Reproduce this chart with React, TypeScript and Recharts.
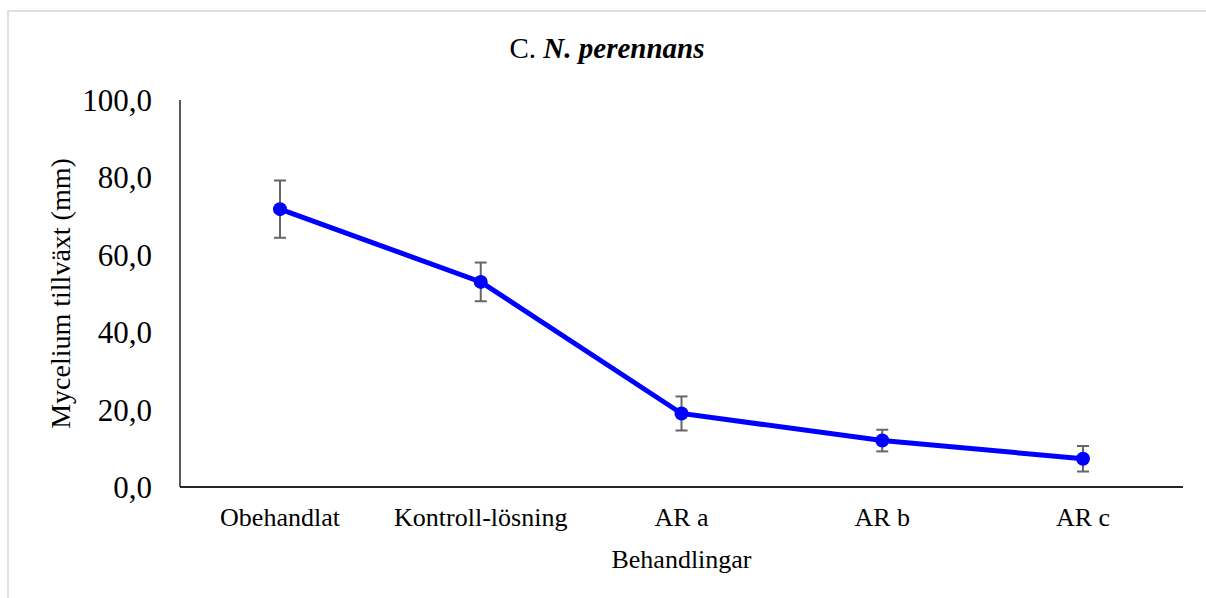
import { ErrorBar, Line, LineChart, XAxis, YAxis } from "recharts";

// Mycelium growth per treatment, with error bars
const categories = ["Obehandlat", "Kontroll-lösning", "AR a", "AR b", "AR c"];
const growth = [71.8, 53.0, 19.0, 12.0, 7.3];
const growthErr = [7.4, 5.0, 4.4, 2.8, 3.3];
const yTicks = [0, 20, 40, 60, 80, 100];

const FONT = "'Liberation Serif', 'Times New Roman', serif";
const BLUE = "#0000FF";

const data = categories.map((name, i) => ({ name, value: growth[i], err: growthErr[i] }));

const fmt = (v: number) => v.toFixed(1).replace(".", ",");

export default function App() {
  return (
    <div
      style={{
        position: "absolute",
        left: 0,
        top: 0,
        width: 1206,
        height: 598,
        overflow: "hidden",
        background: "#fff",
        fontFamily: FONT,
      }}
    >
      {/* chart area frame, only top/left edges are visible in the crop */}
      <div
        style={{
          position: "absolute",
          left: 7,
          top: 10,
          width: 1300,
          height: 700,
          border: "2px solid #e0e0e0",
          boxSizing: "border-box",
        }}
      />
      <LineChart
        width={1206}
        height={598}
        data={data}
        margin={{ top: 100, right: 23, bottom: 0, left: 0 }}
        style={{ position: "absolute", left: 0, top: 0 }}
      >
        <XAxis
          dataKey="name"
          padding={{ left: 100, right: 100 }}
          height={111}
          tickLine={false}
          tickSize={0}
          tickMargin={21}
          axisLine={{ stroke: "#262626", strokeWidth: 2 }}
          tick={{ fill: "#000", fontSize: 26, fontFamily: FONT }}
          interval={0}
          label={{
            value: "Behandlingar",
            position: "insideBottom",
            offset: 30,
            fill: "#000",
            fontSize: 26,
            fontFamily: FONT,
          }}
        />
        <YAxis
          domain={[0, 100]}
          ticks={yTicks}
          width={180}
          tickLine={false}
          tickSize={0}
          tickMargin={28}
          tickFormatter={fmt}
          axisLine={{ stroke: "#000", strokeWidth: 1.3 }}
          tick={{ fill: "#000", fontSize: 31, fontFamily: FONT }}
          label={{
            value: "Mycelium tillväxt (mm)",
            angle: -90,
            position: "center",
            dx: -30,
            fill: "#000",
            fontSize: 28,
            fontFamily: FONT,
          }}
        />
        <Line
          dataKey="value"
          stroke={BLUE}
          strokeWidth={5}
          dot={{ r: 7, fill: BLUE, stroke: "none" }}
          activeDot={false}
          isAnimationActive={false}
        >
          <ErrorBar dataKey="err" width={6} stroke="#666" strokeWidth={2} isAnimationActive={false} />
        </Line>
      </LineChart>
      <svg
        width={1206}
        height={598}
        style={{ position: "absolute", left: 0, top: 0, pointerEvents: "none" }}
      >
        <text x={607} y={58} textAnchor="middle" fontFamily={FONT} fontSize={29} fill="#000">
          <tspan>C. </tspan>
          <tspan fontWeight="bold" fontStyle="italic">
            N. perennans
          </tspan>
        </text>
      </svg>
    </div>
  );
}
